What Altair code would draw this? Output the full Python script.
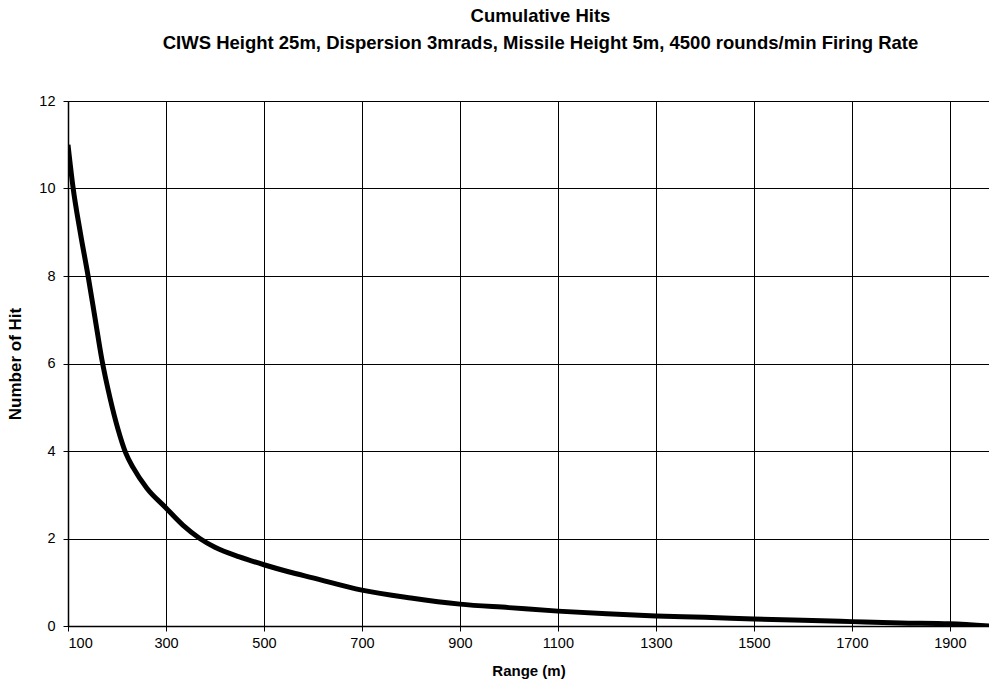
import altair as alt
import pandas as pd

range_m = [100, 110, 125, 141, 155, 169, 186, 202, 218, 233, 261, 298, 335, 369, 400, 450, 500, 550, 600,
           700, 800, 900, 1000, 1100, 1200, 1300, 1400, 1500, 1600, 1700, 1800, 1900, 1980]
hits = [11.0, 10.05, 9.0, 8.0, 7.05, 6.1, 5.2, 4.5, 3.95, 3.62, 3.15, 2.72, 2.3, 2.0, 1.8, 1.58, 1.4, 1.24, 1.1,
        0.82, 0.64, 0.5, 0.42, 0.34, 0.28, 0.23, 0.2, 0.16, 0.13, 0.1, 0.07, 0.05, 0.0]

x_ticks = [100, 300, 500, 700, 900, 1100, 1300, 1500, 1700, 1900]
y_ticks = [0, 2, 4, 6, 8, 10, 12]

df = pd.DataFrame({"range": range_m, "hits": hits})

font = "Liberation Sans"

chart = alt.Chart(df).mark_line(color="black", strokeWidth=5, interpolate="monotone", clip=True).encode(
    x=alt.X("range:Q", title="Range (m)",
            scale=alt.Scale(domain=[100, 1980], nice=False, zero=False),
            axis=alt.Axis(values=x_ticks, format="d", grid=True, gridColor="black", gridOpacity=1,
                          gridWidth=1, domainColor="black", domainWidth=1.5, tickColor="black",
                          tickSize=5, labelFont=font, labelFontSize=14.5, labelColor="black",
                          titleFont=font, titleFontSize=15, titleFontWeight="bold", titleColor="black",
                          labelPadding=5, titlePadding=14, labelOverlap=False)),
    y=alt.Y("hits:Q", title="Number of Hit",
            scale=alt.Scale(domain=[0, 12], nice=False),
            axis=alt.Axis(values=y_ticks, grid=True, gridColor="black", gridOpacity=1, gridWidth=1,
                          domainColor="black", domainWidth=1.5, tickColor="black", tickSize=5,
                          labelFont=font, labelFontSize=14.5, labelColor="black",
                          titleFont=font, titleFontSize=17, titleFontWeight="bold", titleColor="black",
                          labelPadding=8, titlePadding=14)),
).properties(
    width=921,
    height=525,
    autosize=alt.AutoSizeParams(type="none"),
    padding={"left": 68, "top": 101, "right": 0, "bottom": 57},
    title=alt.TitleParams(
        text="Cumulative Hits",
        subtitle="CIWS Height 25m, Dispersion 3mrads, Missile Height 5m, 4500 rounds/min Firing Rate",
        font=font, fontSize=18.5, fontWeight="bold", color="black",
        subtitleFont=font, subtitleFontSize=18.5, subtitleFontWeight="bold", subtitleColor="black",
        subtitlePadding=8, anchor="middle", offset=41, dx=12,
    ),
).configure_view(stroke="black", strokeWidth=1.5).configure(background="white")

chart.save("out.html", embed_options={"renderer": "svg", "actions": False})
